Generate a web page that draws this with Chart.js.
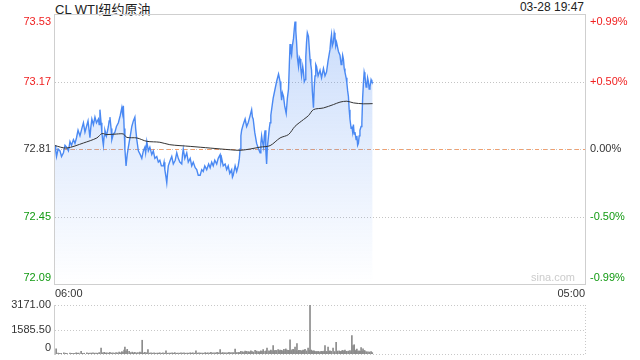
<!DOCTYPE html>
<html>
<head>
<meta charset="utf-8">
<script src="https://cdn.jsdelivr.net/npm/chart.js@4.4.1/dist/chart.umd.min.js"></script>
<style>
    body { margin: 0; background: #fff; width: 640px; height: 360px; overflow: hidden; position: relative;
           font-family: "Liberation Sans", Arial, "Noto Sans CJK SC", sans-serif; }
    #priceChart { position: absolute; left: 0; top: 0; }
    #volChart { position: absolute; left: 0; top: 298px; }
    .title { position: absolute; left: 55px; top: -1px; font-size: 13px; color: #222; }
    .stamp { position: absolute; right: 56px; top: 0px; font-size: 12px; color: #222; }
</style>
</head>
<body>
<div class="title">CL WTI纽约原油</div>
<div class="stamp">03-28 19:47</div>
<canvas id="priceChart" width="640" height="300"></canvas>
<canvas id="volChart" width="640" height="62"></canvas>
<script>
// minutes since 06:00, price
const priceTimes = [0, 2, 4, 8, 13, 17, 22, 26, 30, 35, 39, 43, 48, 52, 56, 60, 65, 70, 74, 78,
    82, 86, 91, 93, 96, 100, 104, 108, 113, 115, 117, 120, 122, 124, 126, 128, 130, 134, 139, 141,
    143, 146, 148, 152, 156, 160, 165, 170, 174, 176, 178, 180, 182, 185, 188, 191, 196, 200, 204, 208,
    210, 213, 215, 217, 222, 226, 230, 234, 236, 239, 243, 247, 252, 256, 260, 265, 269, 273, 277, 282,
    284, 286, 289, 291, 293, 295, 300, 304, 308, 313, 317, 321, 325, 330, 332, 334, 338, 343, 347, 352,
    356, 360, 365, 369, 373, 378, 382, 386, 390, 395, 400, 404, 408, 412, 416, 421, 425, 430, 432, 434,
    438, 443, 447, 451, 455, 460, 462, 464, 467, 469, 473, 477, 480, 482, 484, 486, 490, 495, 499, 503,
    507, 512, 514, 516, 520, 525, 530, 534, 536, 538, 540, 543, 545, 547, 549, 551, 553, 556, 558, 560,
    562, 564, 568, 573, 577, 582, 584, 586, 588, 590, 592, 595, 598, 602, 605, 608, 610, 612, 614, 616,
    618, 621, 623, 625, 627, 629, 631, 634, 636, 638, 640, 642, 645, 647, 649, 651, 653, 655, 657, 660,
    662, 664, 666, 668, 670, 673, 675, 677, 679, 681, 685, 690, 694, 699, 703, 707, 711, 716, 718, 720,
    722, 725, 727, 729, 731, 733, 738, 742, 745, 747, 749, 751, 753, 755, 758, 760, 762, 764, 766, 768,
    771, 773, 775, 777, 779, 781, 784, 786, 788, 790, 792, 794, 797, 799, 801, 803, 805, 807, 810, 812,
    814, 816, 818, 820, 823, 825, 827];
const prices = [72.83, 72.80, 72.77, 72.81, 72.80, 72.77, 72.79, 72.83, 72.82, 72.80, 72.85, 72.83, 72.86, 72.84, 72.87, 72.91, 72.88, 72.92, 72.95, 72.90,
    72.93, 72.96, 72.87, 72.92, 72.97, 72.94, 72.98, 72.95, 72.97, 72.94, 73.02, 72.95, 72.90, 72.86, 72.83, 72.88, 72.91, 72.88, 72.93, 72.96,
    72.98, 72.92, 72.86, 72.89, 72.90, 72.93, 72.95, 72.99, 73.03, 73.00, 73.04, 72.92, 72.81, 72.72, 72.78, 72.82, 72.88, 72.93, 72.96, 72.98,
    72.92, 72.86, 72.83, 72.80, 72.78, 72.76, 72.80, 72.82, 72.79, 72.85, 72.80, 72.82, 72.78, 72.80, 72.76, 72.77, 72.74, 72.75, 72.72, 72.72,
    72.74, 72.70, 72.66, 72.63, 72.68, 72.72, 72.75, 72.77, 72.73, 72.75, 72.79, 72.76, 72.74, 72.73, 72.78, 72.81, 72.76, 72.79, 72.74, 72.76,
    72.72, 72.74, 72.71, 72.70, 72.67, 72.67, 72.70, 72.69, 72.72, 72.70, 72.73, 72.71, 72.74, 72.72, 72.75, 72.73, 72.76, 72.78, 72.74, 72.76,
    72.72, 72.73, 72.70, 72.72, 72.68, 72.70, 72.66, 72.67, 72.70, 72.72, 72.69, 72.72, 72.76, 72.81, 72.88, 72.91, 72.94, 72.97, 72.93, 72.95,
    72.98, 73.02, 72.98, 72.97, 72.90, 72.84, 72.81, 72.79, 72.84, 72.88, 72.85, 72.82, 72.88, 72.91, 72.80, 72.73, 72.82, 72.88, 72.92, 72.95,
    72.99, 73.02, 73.08, 73.13, 73.17, 73.21, 73.19, 73.17, 73.12, 73.07, 73.11, 73.09, 73.04, 73.00, 73.08, 73.13, 73.25, 73.37, 73.33, 73.31,
    73.36, 73.40, 73.45, 73.49, 73.44, 73.38, 73.30, 73.25, 73.30, 73.29, 73.24, 73.20, 73.25, 73.22, 73.17, 73.18, 73.30, 73.38, 73.43, 73.41,
    73.35, 73.29, 73.26, 73.23, 73.12, 73.03, 73.14, 73.20, 73.26, 73.25, 73.20, 73.23, 73.19, 73.24, 73.20, 73.22, 73.28, 73.34, 73.39, 73.42,
    73.36, 73.38, 73.43, 73.41, 73.36, 73.38, 73.33, 73.31, 73.26, 73.27, 73.31, 73.29, 73.24, 73.22, 73.19, 73.16, 73.12, 73.09, 73.02, 72.97,
    72.92, 72.93, 72.90, 72.94, 72.89, 72.90, 72.86, 72.88, 72.83, 72.84, 72.88, 72.91, 72.93, 72.95, 73.08, 73.16, 73.22, 73.20, 73.14, 73.15,
    73.19, 73.17, 73.13, 73.14, 73.18, 73.17, 73.16];

// average price line
const avgTimes = [0, 30, 74, 109, 122, 135, 161, 178, 187, 213, 239, 273, 299, 352, 404, 456, 482, 508, 534,
    560, 586, 608, 625, 647, 660, 673, 699, 725, 742, 760, 777, 803, 827];
const avgPrices = [72.828, 72.815, 72.842, 72.869, 72.892, 72.887, 72.890, 72.890, 72.872, 72.869, 72.851, 72.846, 72.833, 72.824, 72.815, 72.806, 72.803, 72.810, 72.820,
    72.828, 72.869, 72.887, 72.931, 72.967, 72.988, 73.020, 73.029, 73.047, 73.060, 73.065, 73.056, 73.051, 73.052];

// volume bars: the taller ones
const volTimes = [3, 8, 16, 23, 31, 39, 47, 55, 62, 68, 76, 83, 91, 99, 107, 115, 120, 128, 135, 143,
    151, 159, 167, 174, 180, 182, 188, 193, 201, 208, 216, 221, 227, 234, 242, 250, 258, 266, 273, 281,
    289, 297, 305, 312, 320, 328, 336, 344, 352, 359, 367, 375, 383, 391, 398, 406, 414, 422, 430, 437,
    445, 453, 461, 469, 477, 484, 492, 495, 503, 510, 516, 521, 529, 536, 542, 547, 552, 557, 562, 568,
    573, 581, 586, 591, 596, 601, 607, 612, 617, 620, 625, 630, 635, 641, 646, 651, 659, 664, 667, 672,
    677, 682, 687, 693, 698, 703, 708, 711, 716, 724, 732, 740, 745, 750, 755, 760, 768, 773, 776, 779,
    784, 786, 792, 797, 802, 807, 815, 823];
const volumes = [330, 60, 50, 70, 40, 60, 50, 70, 60, 180, 50, 70, 60, 80, 60, 90, 390, 110, 80, 100,
    70, 90, 120, 150, 260, 450, 300, 180, 120, 100, 90, 120, 890, 100, 280, 80, 70, 60, 80, 70,
    200, 60, 70, 90, 60, 80, 70, 60, 80, 70, 200, 80, 60, 90, 70, 110, 80, 100, 280, 90,
    80, 110, 90, 320, 100, 180, 120, 190, 150, 200, 130, 230, 160, 200, 280, 180, 390, 200, 250, 540,
    230, 280, 260, 220, 300, 330, 240, 925, 270, 300, 450, 670, 240, 200, 260, 300, 390, 3171, 250, 210,
    160, 140, 120, 180, 150, 540, 160, 450, 200, 390, 755, 200, 170, 200, 260, 180, 220, 1185, 540, 600,
    250, 320, 200, 410, 330, 200, 140, 160];

// volume bars: the low background ones
const volTimesBase = [12, 27, 43, 51, 58, 72, 87, 95, 103, 111, 124, 131, 139, 147, 155, 163, 171, 177, 185, 197,
    205, 212, 224, 231, 238, 246, 254, 262, 270, 277, 285, 293, 301, 309, 316, 324, 332, 340, 348, 356,
    363, 371, 379, 387, 395, 402, 410, 418, 426, 434, 441, 449, 457, 465, 473, 480, 488, 499, 506, 513,
    525, 533, 539, 550, 560, 565, 571, 577, 584, 589, 594, 599, 604, 610, 615, 622, 628, 633, 638, 644,
    649, 655, 662, 670, 675, 680, 685, 690, 696, 701, 706, 714, 719, 728, 736, 743, 748, 753, 758, 764,
    771, 782, 789, 795, 800, 805, 811, 819, 826];
const volumesBase = [40, 50, 45, 40, 55, 45, 50, 60, 55, 50, 80, 70, 60, 65, 55, 70, 80, 120, 200, 90,
    80, 70, 90, 70, 80, 60, 55, 50, 60, 50, 55, 50, 60, 55, 50, 55, 60, 50, 55, 60,
    55, 60, 65, 55, 60, 65, 70, 75, 80, 70, 80, 75, 85, 90, 95, 100, 150, 170, 140, 160,
    190, 150, 170, 210, 180, 200, 190, 230, 200, 240, 180, 210, 250, 230, 200, 260, 220, 190, 230, 210,
    240, 200, 230, 180, 200, 150, 170, 140, 160, 190, 150, 170, 180, 160, 190, 160, 230, 200, 170, 190,
    160, 210, 190, 170, 180, 220, 150, 130, 90];

const priceTicks = [73.53, 73.17, 72.81, 72.45, 72.09];
const pctTicks = ['+0.99%', '+0.50%', '0.00%', '-0.50%', '-0.99%'];
const volTicks = [3171, 1585.5, 0];
const volTickLabels = ['3171.00', '1585.50', '0'];
const timeLabels = ['06:00', '05:00'];
const dayMinutes = 1380;

const FONT = '11px "Liberation Sans", Arial, sans-serif';
const RED = '#f02020';
const GREEN = '#129a12';
const TEXT = '#333';

function tickColor(i) {
    if (i < 2) return RED;
    if (i > 2) return GREEN;
    return TEXT;
}

function hLine(ctx, x1, x2, y, color, dash) {
    ctx.beginPath();
    ctx.strokeStyle = color;
    ctx.setLineDash(dash);
    ctx.moveTo(x1, y);
    ctx.lineTo(x2, y);
    ctx.stroke();
}

// grid, border, labels of the price panel
const priceDecor = {
    id: 'priceDecor',
    beforeDatasetsDraw(chart) {
        const { ctx, chartArea: a, scales: { y } } = chart;
        ctx.save();
        ctx.lineWidth = 1;
        priceTicks.forEach((v, i) => {
            if (i === 0 || i === priceTicks.length - 1) return;
            const py = Math.round(y.getPixelForValue(v)) + 0.5;
            hLine(ctx, a.left, a.right, py, '#c4c4c4', [1, 2]);
            if (i === 2) {
                hLine(ctx, a.left, a.right, py, '#f0a070', [4, 4]);
            }
        });
        ctx.restore();
    },
    afterDraw(chart) {
        const { ctx, chartArea: a, scales: { x, y } } = chart;
        ctx.save();
        ctx.lineWidth = 1;
        ctx.strokeStyle = '#cfcfcf';
        ctx.setLineDash([]);
        ctx.strokeRect(Math.round(a.left) - 0.5, Math.round(a.top) + 0.5,
            Math.round(a.right - a.left) + 1, Math.round(a.bottom - a.top));

        ctx.font = FONT;
        priceTicks.forEach((v, i) => {
            let py = y.getPixelForValue(v);
            ctx.textBaseline = 'middle';
            if (i === 0) { ctx.textBaseline = 'top'; py = a.top + 2; }
            if (i === priceTicks.length - 1) { ctx.textBaseline = 'bottom'; py = a.bottom - 1; }
            ctx.fillStyle = tickColor(i);
            ctx.textAlign = 'right';
            ctx.fillText(v.toFixed(2), a.left - 4, py);
            ctx.textAlign = 'left';
            ctx.fillText(pctTicks[i], a.right + 5, py);
        });

        // time axis
        ctx.fillStyle = TEXT;
        ctx.textBaseline = 'middle';
        ctx.textAlign = 'left';
        ctx.fillText(timeLabels[0], x.getPixelForValue(0), a.bottom + 10);
        ctx.textAlign = 'right';
        ctx.fillText(timeLabels[1], x.getPixelForValue(dayMinutes), a.bottom + 10);

        // watermark
        ctx.fillStyle = '#cccccc';
        ctx.textBaseline = 'bottom';
        ctx.fillText('sina.com', a.right - 10, a.bottom - 1);
        ctx.restore();
    }
};

const volDecor = {
    id: 'volDecor',
    beforeDatasetsDraw(chart) {
        const { ctx, chartArea: a, scales: { y } } = chart;
        ctx.save();
        ctx.lineWidth = 1;
        volTicks.forEach(v => {
            const py = Math.round(y.getPixelForValue(v)) + 0.5;
            hLine(ctx, a.left, a.right, py, '#c8c8c8', [1, 2]);
        });
        ctx.setLineDash([1, 2]);
        ctx.beginPath();
        ctx.moveTo(Math.round(a.right) + 0.5, a.top);
        ctx.lineTo(Math.round(a.right) + 0.5, a.bottom);
        ctx.stroke();
        ctx.setLineDash([]);
        ctx.strokeStyle = '#cfcfcf';
        ctx.beginPath();
        ctx.moveTo(Math.round(a.left) - 0.5, a.top);
        ctx.lineTo(Math.round(a.left) - 0.5, a.bottom + 1);
        ctx.stroke();
        ctx.restore();
    },
    afterDraw(chart) {
        const { ctx, chartArea: a, scales: { y } } = chart;
        ctx.save();
        ctx.font = FONT;
        ctx.fillStyle = TEXT;
        ctx.textAlign = 'right';
        volTicks.forEach((v, i) => {
            let py = y.getPixelForValue(v);
            ctx.textBaseline = 'middle';
            if (i === volTicks.length - 1) { py -= 6; }
            ctx.fillText(volTickLabels[i], a.left - 4, py);
        });
        ctx.restore();
    }
};

function renderPriceChart() {
    const ctx = document.getElementById('priceChart').getContext('2d');
    new Chart(ctx, {
        type: 'line',
        data: {
            datasets: [
                {
                    label: 'avg',
                    data: avgTimes.map((t, i) => ({ x: t, y: avgPrices[i] })),
                    borderColor: '#333333',
                    borderWidth: 1,
                    pointRadius: 0,
                    fill: false,
                    tension: 0.3
                },
                {
                    label: 'price',
                    data: priceTimes.map((t, i) => ({ x: t, y: prices[i] })),
                    borderColor: '#4a89f3',
                    borderWidth: 1.4,
                    pointRadius: 0,
                    tension: 0,
                    fill: 'start',
                    backgroundColor: (c) => {
                        const a = c.chart.chartArea;
                        if (!a) return 'rgba(74, 137, 243, 0.15)';
                        const g = c.chart.ctx.createLinearGradient(0, a.top, 0, a.bottom);
                        g.addColorStop(0, 'rgba(74, 137, 243, 0.30)');
                        g.addColorStop(1, 'rgba(74, 137, 243, 0.0)');
                        return g;
                    }
                }
            ]
        },
        options: {
            responsive: false,
            animation: false,
            layout: { padding: { left: 55, right: 55, top: 14, bottom: 16 } },
            plugins: { legend: { display: false }, tooltip: { enabled: false } },
            scales: {
                x: { type: 'linear', min: 0, max: dayMinutes, display: false },
                y: { min: priceTicks[priceTicks.length - 1], max: priceTicks[0], display: false }
            }
        },
        plugins: [priceDecor]
    });
}

function renderVolumeChart() {
    const ctx = document.getElementById('volChart').getContext('2d');
    new Chart(ctx, {
        type: 'bar',
        data: {
            datasets: [
                {
                    data: volTimes.map((t, i) => ({ x: t, y: volumes[i] })),
                    backgroundColor: '#8c8c8c',
                    barThickness: 1,
                    grouped: false,
                    borderWidth: 0
                },
                {
                    data: volTimesBase.map((t, i) => ({ x: t, y: volumesBase[i] })),
                    backgroundColor: '#8c8c8c',
                    barThickness: 1,
                    grouped: false,
                    borderWidth: 0
                }
            ]
        },
        options: {
            responsive: false,
            animation: false,
            layout: { padding: { left: 55, right: 55, top: 7, bottom: 6 } },
            plugins: { legend: { display: false }, tooltip: { enabled: false } },
            scales: {
                x: { type: 'linear', min: 0, max: dayMinutes, offset: false, display: false },
                y: { min: 0, max: volTicks[0], display: false }
            }
        },
        plugins: [volDecor]
    });
}

document.addEventListener('DOMContentLoaded', () => {
    renderPriceChart();
    renderVolumeChart();
});
</script>
</body>
</html>
